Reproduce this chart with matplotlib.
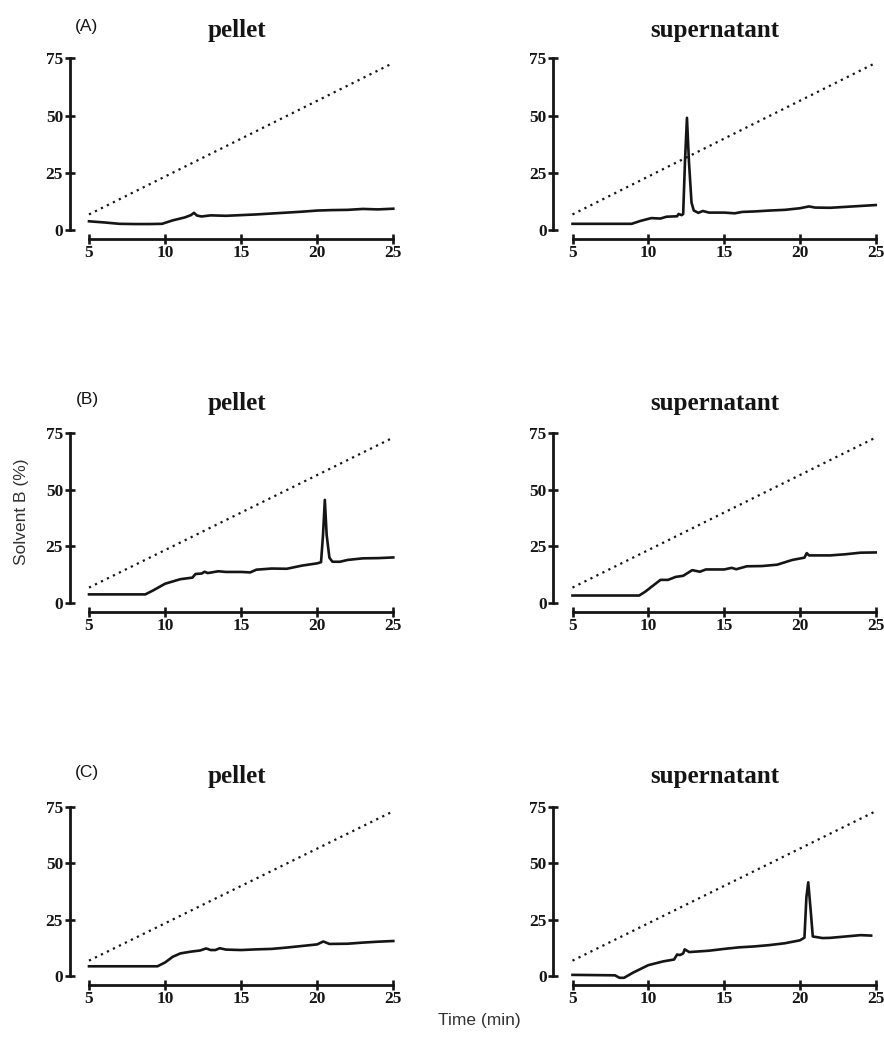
import matplotlib
matplotlib.use("Agg")
import matplotlib.pyplot as plt
import numpy as np

# gradient (dotted line), same in every panel
grad_t = [5, 25]
grad_b = [6.8, 73.0]

# traces: time (min) / signal (% scale)
a_pel_t = [5, 6, 7, 8, 9, 9.8, 10.5, 11.3, 11.7, 11.9, 12.1, 12.4, 13, 14, 15, 16, 17, 18, 19, 20, 21, 22, 23, 24, 25]
a_pel_y = [3.8, 3.3, 2.7, 2.6, 2.6, 2.7, 4.2, 5.5, 6.5, 7.5, 6.3, 5.9, 6.4, 6.2, 6.5, 6.8, 7.2, 7.6, 8.0, 8.5, 8.7, 8.8, 9.2, 9.0, 9.3]

a_sup_t = [5, 8.9, 9.5, 10.2, 10.8, 11.2, 11.9, 12.0, 12.2, 12.3, 12.42, 12.55, 12.68, 12.85, 13.0, 13.3, 13.6, 14, 15, 15.7, 16.2, 17, 18, 19, 20, 20.6, 21, 22, 23, 24, 25]
a_sup_y = [2.7, 2.7, 4.0, 5.2, 5.0, 5.8, 6.0, 7.0, 6.5, 7.0, 30, 49, 30, 12, 8.5, 7.5, 8.3, 7.6, 7.6, 7.3, 7.9, 8.1, 8.5, 8.8, 9.5, 10.3, 9.8, 9.7, 10.1, 10.5, 10.9]

b_pel_t = [5, 8.7, 9.2, 10, 11, 11.8, 12, 12.4, 12.6, 12.8, 13.5, 14, 15, 15.6, 16, 17, 18, 19, 20, 20.25, 20.38, 20.5, 20.62, 20.8, 21, 21.5, 22, 23, 24, 25]
b_pel_y = [3.8, 3.8, 5.5, 8.5, 10.5, 11.2, 12.8, 13.0, 13.8, 13.2, 14.0, 13.7, 13.7, 13.5, 14.7, 15.2, 15.1, 16.5, 17.5, 18.0, 30, 45.5, 30, 20, 18.2, 18.2, 19.0, 19.7, 19.8, 20.1]

b_sup_t = [5, 9.4, 9.8, 10.8, 11.3, 11.8, 12.3, 12.9, 13.4, 13.8, 15, 15.5, 15.8, 16.5, 17.5, 18.5, 19.5, 20.3, 20.45, 20.6, 22, 23, 24, 25]
b_sup_y = [3.3, 3.3, 5.0, 10.2, 10.2, 11.5, 12.0, 14.5, 13.8, 14.8, 14.8, 15.5, 14.9, 16.2, 16.3, 16.9, 19.0, 20.0, 22.0, 21.0, 21.0, 21.5, 22.2, 22.3]

c_pel_t = [5, 9.5, 10, 10.5, 11, 11.7, 12.3, 12.7, 13, 13.3, 13.6, 14, 15, 16, 17, 18, 19, 20, 20.4, 20.8, 22, 23, 24, 25]
c_pel_y = [4.3, 4.3, 6.0, 8.5, 10.0, 10.8, 11.3, 12.2, 11.5, 11.5, 12.3, 11.7, 11.5, 11.8, 12.0, 12.6, 13.3, 14.0, 15.3, 14.2, 14.3, 14.8, 15.2, 15.5]

c_sup_t = [5, 7.8, 8.1, 8.4, 9, 10, 11, 11.7, 11.9, 12.1, 12.3, 12.4, 12.7, 14, 15, 16, 17, 18, 19, 20, 20.3, 20.43, 20.55, 20.7, 20.85, 21.5, 22, 23, 24, 24.7]
c_sup_y = [0.5, 0.3, -0.8, -0.8, 1.5, 4.8, 6.5, 7.3, 9.5, 9.3, 10.0, 11.8, 10.6, 11.2, 12.0, 12.7, 13.1, 13.7, 14.5, 15.8, 17.0, 35, 41.5, 30, 17.5, 16.8, 16.9, 17.5, 18.1, 17.9]

row_labels = ["(A)", "(B)", "(C)"]
col_titles = ["pellet", "supernatant"]
x_ticks = [5, 10, 15, 20, 25]
y_ticks = [0, 25, 50, 75]

traces = [[(a_pel_t, a_pel_y), (a_sup_t, a_sup_y)],
          [(b_pel_t, b_pel_y), (b_sup_t, b_sup_y)],
          [(c_pel_t, c_pel_y), (c_sup_t, c_sup_y)]]

W, H = 884, 1037
fig = plt.figure(figsize=(W / 100, H / 100), dpi=100)

# pixel boxes of the data area (x=5..25, y=0..75)
col_px = [(89, 393.3), (572.5, 875.7)]
row_px = [(230, 58.3), (603, 433), (976, 806.7)]
title_y = [37, 410, 783]
title_x = [237, 715]

serif = "Liberation Serif"
sans = "Liberation Sans"
ink = "#151515"

for r in range(3):
    y0, y75 = row_px[r]
    for c in range(2):
        x5, x25 = col_px[c]
        ax = fig.add_axes([x5 / W, 1 - y0 / H, (x25 - x5) / W, (y0 - y75) / H])
        t, y = traces[r][c]
        ax.plot(t, y, color=ink, lw=1.9, solid_joinstyle="round", clip_on=False)
        ax.plot(grad_t, grad_b, color=ink, lw=1.6, dashes=(1, 2.0), clip_on=False)
        ax.set_xlim(5, 25)
        ax.set_ylim(0, 75)
        ax.patch.set_visible(False)
        for s in ["top", "right"]:
            ax.spines[s].set_visible(False)
        ax.spines["left"].set_position(("outward", 13.7))
        ax.spines["bottom"].set_position(("outward", 6.5))
        for s in ["left", "bottom"]:
            ax.spines[s].set_linewidth(2.0)
            ax.spines[s].set_color(ink)
        ax.spines["left"].set_bounds(0, 75)
        ax.set_xticks(x_ticks)
        ax.set_yticks(y_ticks)
        ax.tick_params(direction="inout", length=7, width=1.9, color=ink)
        ax.tick_params(axis="y", pad=1.5)
        ax.tick_params(axis="x", pad=1)
        for lab in ax.get_xticklabels() + ax.get_yticklabels():
            lab.set_fontfamily(serif)
            lab.set_fontweight("bold")
            lab.set_fontsize(12.5)
            lab.set_color(ink)

        fig.text(title_x[c] / W, 1 - title_y[r] / H, col_titles[c], family=serif,
                 weight="bold", fontsize=18, ha="center", va="baseline", color=ink)
    fig.text(87 / W, 1 - (title_y[r] - 11) / H, row_labels[r], family=sans,
             fontsize=12.5, ha="center", va="center", color=ink)

fig.text(22 / W, 1 - 512 / H, "Solvent B (%)", family=sans, fontsize=12.5,
         rotation=90, ha="center", va="center", color="#333333")
fig.text(479 / W, 1 - 1020 / H, "Time (min)", family=sans, fontsize=12.5,
         ha="center", va="center", color="#333333")

fig.savefig("out.png", dpi=100)
